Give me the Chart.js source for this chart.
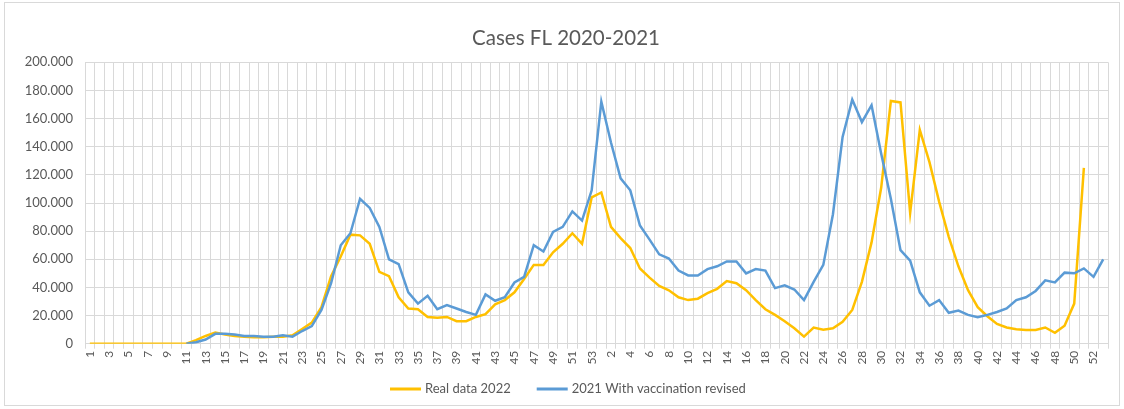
<!DOCTYPE html>
<html>
<head>
<meta charset="utf-8">
<script src="https://cdn.jsdelivr.net/npm/chart.js@4.4.0/dist/chart.umd.min.js"></script>
<style>
  html, body { margin: 0; padding: 0; background: #ffffff; }
  #wrap { width: 1124px; height: 409px; position: relative; }
</style>
</head>
<body>
<div id="wrap"><canvas id="c" width="1124" height="409"></canvas></div>
<script>
// Week labels: 2020 weeks 1-53, then 2021 weeks 1-53
const weeks2020 = [1,2,3,4,5,6,7,8,9,10,11,12,13,14,15,16,17,18,19,20,21,22,23,24,25,26,27,28,29,30,31,32,33,34,35,36,37,38,39,40,41,42,43,44,45,46,47,48,49,50,51,52,53];
const weeks2021 = [1,2,3,4,5,6,7,8,9,10,11,12,13,14,15,16,17,18,19,20,21,22,23,24,25,26,27,28,29,30,31,32,33,34,35,36,37,38,39,40,41,42,43,44,45,46,47,48,49,50,51,52,53];
const categories = weeks2020.concat(weeks2021).map(String);

const realData2022 = [
  0,0,0,0,0,0,0,0,0,0,
  0,2500,5500,8000,6500,5500,5000,4500,4500,5000,
  5000,6000,10500,15000,26000,48000,62000,77500,77000,71000,
  51000,48000,33000,25000,24500,19000,18500,19000,16000,16000,
  19000,21000,28000,31000,36500,46000,56000,56000,65000,71000,
  78500,71000,104000,
  107500,83000,75000,68000,53500,47000,41000,38000,33000,31000,
  32000,36000,39000,44500,43000,38000,31000,24500,20500,16000,
  11000,5000,11500,10000,11000,15500,24000,44000,72000,111000,
  172500,171500,93000,152000,129000,101000,76000,55000,38000,26000,
  19500,14000,11500,10200,9700,9700,11500,7800,12800,28500,
  125000,null,null
];

const withVaccination2021 = [
  null,null,null,null,null,null,null,null,null,null,
  0,1000,3000,7000,7000,6500,5500,5500,5000,5000,
  6000,5000,9000,12500,24000,43000,70000,78500,103000,96500,
  83000,60000,56500,36500,28500,34000,24500,27500,25000,22500,
  20500,35000,30500,33000,43500,47500,70000,65500,79500,83000,
  94000,87500,109000,
  172000,143000,117500,109000,84000,74000,63500,60500,52000,48500,
  48500,53000,55000,58500,58500,50000,53000,52000,39500,41500,
  38500,31000,44000,56000,92000,147000,173500,157500,169500,135000,
  103000,66500,59000,36500,27000,31000,22000,23500,20500,18800,
  20500,22500,25000,31000,33000,37500,45000,43500,50500,50000,
  53500,47500,60000
];

const yTicks = [0,20000,40000,60000,80000,100000,120000,140000,160000,180000,200000];

const titleText = 'Cases FL 2020-2021';
const fontFam = "Lato, 'Liberation Sans', sans-serif";
const textCol = '#595959';

function fmt(v) {
  return String(v).replace(/\B(?=(\d{3})+(?!\d))/g, '.');
}

const bgPlugin = {
  id: 'bg',
  beforeDraw(chart) {
    const ctx = chart.ctx;
    ctx.save();
    ctx.fillStyle = '#ffffff';
    ctx.fillRect(0, 0, chart.width, chart.height);
    ctx.strokeStyle = '#d9d9d9';
    ctx.lineWidth = 1;
    ctx.strokeRect(4.5, 2.5, 1115, 403);
    ctx.restore();
  }
};

// Title drawn centred over the whole chart frame
const titlePlugin = {
  id: 'frameTitle',
  afterDraw(chart, args, opts) {
    const ctx = chart.ctx;
    ctx.save();
    ctx.font = opts.fontSize + 'px ' + fontFam;
    ctx.fillStyle = textCol;
    ctx.textAlign = 'center';
    ctx.textBaseline = 'middle';
    ctx.fillText(opts.text, opts.x, opts.y);
    ctx.restore();
  }
};

// Simple bottom legend (line swatch + label)
const legendPlugin = {
  id: 'lineLegend',
  afterDraw(chart, args, opts) {
    const ctx = chart.ctx;
    ctx.save();
    ctx.font = opts.fontSize + 'px ' + fontFam;
    ctx.textBaseline = 'middle';
    ctx.textAlign = 'left';
    let x = opts.startX;
    const y = opts.y;
    chart.data.datasets.forEach(ds => {
      ctx.fillStyle = ds.borderColor;
      ctx.fillRect(x, y - 1.5, opts.swatch, 3);
      x += opts.swatch + opts.textGap;
      ctx.fillStyle = textCol;
      ctx.fillText(ds.label, x, y);
      x += ctx.measureText(ds.label).width + opts.itemGap;
    });
    ctx.restore();
  }
};

new Chart(document.getElementById('c'), {
  type: 'line',
  data: {
    labels: categories,
    datasets: [
      {
        label: 'Real data 2022',
        data: realData2022,
        borderColor: '#FFC000',
        backgroundColor: '#FFC000',
        borderWidth: 2.5,
        pointRadius: 0,
        tension: 0,
        order: 1
      },
      {
        label: '2021 With vaccination revised',
        data: withVaccination2021,
        borderColor: '#5B9BD5',
        backgroundColor: '#5B9BD5',
        borderWidth: 2.5,
        pointRadius: 0,
        tension: 0,
        order: 0
      }
    ]
  },
  options: {
    responsive: false,
    animation: false,
    devicePixelRatio: 1,
    layout: { padding: { left: 0, right: 16, top: 62.3, bottom: 35.3 } },
    plugins: {
      title: { display: false },
      frameTitle: { text: titleText, x: 566, y: 38, fontSize: 20.5 },
      legend: { display: false },
      lineLegend: { startX: 390, y: 389, swatch: 31, textGap: 4, itemGap: 26, fontSize: 13 },
      tooltip: { enabled: false }
    },
    scales: {
      x: {
        type: 'category',
        offset: true,
        grid: { offset: true, color: '#d9d9d9', lineWidth: 1, drawTicks: true, tickLength: 5, tickColor: '#d9d9d9' },
        border: { color: '#d9d9d9' },
        ticks: {
          autoSkip: false,
          maxRotation: 90,
          minRotation: 90,
          padding: 2,
          color: textCol,
          font: { family: fontFam, size: 12 },
          callback(v, i) { return i % 2 === 0 ? categories[i] : ''; }
        },
        afterFit(scale) { scale.height = 30; }
      },
      y: {
        min: 0,
        max: 200000,
        afterBuildTicks(scale) { scale.ticks = yTicks.map(v => ({ value: v })); },
        grid: { color: '#d9d9d9', lineWidth: 1, drawTicks: false },
        border: { display: false },
        ticks: {
          padding: 12,
          color: textCol,
          font: { family: fontFam, size: 13 },
          callback(v) { return fmt(v); }
        },
        afterFit(scale) { scale.width = 85; }
      }
    }
  },
  plugins: [bgPlugin, titlePlugin, legendPlugin]
});
</script>
</body>
</html>
